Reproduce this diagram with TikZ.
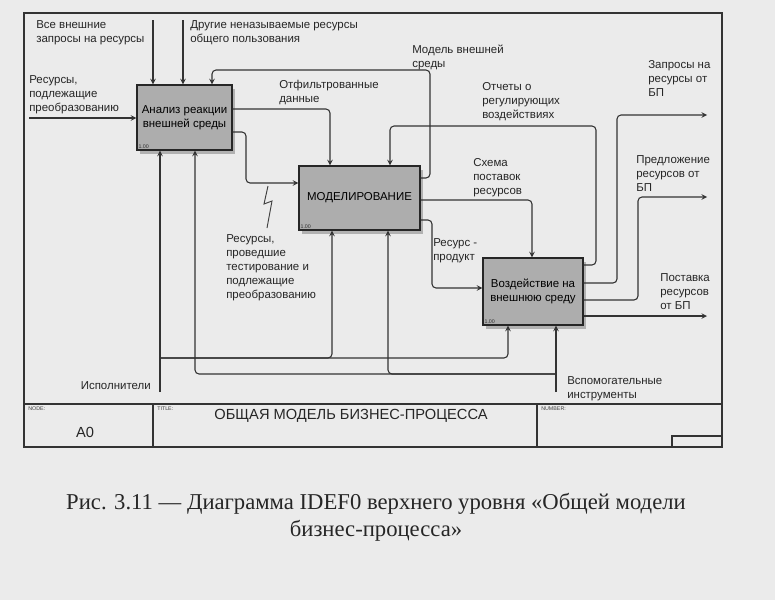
\documentclass[tikz,border=0pt]{standalone}
\usepackage{fontspec}
\setmainfont{Liberation Serif}
\setsansfont{Liberation Sans}
\usepackage{tikz}
\usetikzlibrary{positioning,shadows}

\begin{document}
\begin{tikzpicture}[
  x=0.75pt, y=-0.75pt,
  box/.style={draw=black!85, fill=black!32, line width=1.1pt, align=center, inner sep=2pt, font=\sffamily\fontsize{8.6}{10.5}\selectfont, drop shadow={shadow xshift=2.5pt, shadow yshift=-3pt, fill=black!40, opacity=0.7}},
  lbl/.style={font=\sffamily\fontsize{8.6}{10.5}\selectfont, align=left, inner sep=0pt, anchor=north west, text=black!85},
  num/.style={font=\sffamily\fontsize{4}{4}\selectfont, inner sep=1.5pt, anchor=south west, text=black!80},
  hdr/.style={font=\sffamily\fontsize{4}{4}\selectfont, inner sep=0pt, anchor=north west, text=black!75},
  arr/.style={->, >=stealth, draw=black!80, line width=0.8pt, rounded corners=3pt},
  squig/.style={draw=black!75, line width=0.7pt},
  frm/.style={draw=black!80, line width=0.9pt},
]
\path[use as bounding box, fill=black!8] (0,0) rectangle (775,600);

% Frame and title block
\draw[frm] (24,13) rectangle (722,447);
\draw[frm] (24,404) -- (722,404) (153,404) -- (153,447) (537,404) -- (537,447);
\draw[frm] (672,436) rectangle (722,447);
\node[hdr] (nodehdr) at (28,407) {NODE:};
\node[hdr] (titlehdr) at (157,407) {TITLE:};
\node[hdr] (numhdr) at (541,407) {NUMBER:};
\node[font=\sffamily\fontsize{11}{11}\selectfont, text=black!85] (nodeno) at (85,432) {A0};
\node[font=\sffamily\fontsize{11}{11}\selectfont, text=black!85] (ttl) at (351,416) {ОБЩАЯ МОДЕЛЬ БИЗНЕС-ПРОЦЕССА};

% Functions
\node[box, minimum width=71.25pt, minimum height=48.75pt] (a1) at (184.5,117.5) {Анализ реакции\\внешней среды};
\node[box, minimum width=90.75pt, minimum height=48pt] (a2) at (359.5,198) {МОДЕЛИРОВАНИЕ};
\node[box, minimum width=75pt, minimum height=50.25pt] (a3) at (533,291.5) {Воздействие на\\внешнюю среду};
\node[num] (a1n) at (a1.south west) {1.00};
\node[num] (a2n) at (a2.south west) {1.00};
\node[num] (a3n) at (a3.south west) {1.00};

% Controls and input of a1
\coordinate (c1) at (153,20);
\coordinate (c2) at (183,20);
\draw[arr] (c1) -- (c1 |- a1.north);
\draw[arr] (c2) -- (c2 |- a1.north);
\node[lbl] (c1l) at (36,20) {Все внешние\\запросы на ресурсы};
\node[lbl] (c2l) at (190,20) {Другие неназываемые ресурсы\\общего пользования};
\coordinate (i1) at (29,118);
\draw[arr] (i1) -- (i1 -| a1.west);
\node[lbl] (i1l) at (29,75) {Ресурсы,\\подлежащие\\преобразованию};

% a1 -> a2
\coordinate (k1) at (330,109);
\draw[arr] (k1 -| a1.east) -| (k1 |- a2.north);
\node[lbl] (k1l) at (279,80) {Отфильтрованные\\данные};
\coordinate (k2) at (246,132);
\coordinate (k3) at (246,183);
\draw[arr] (k2 -| a1.east) -- (k2) -- (k3) -- (k3 -| a2.west);
\node[lbl] (k3l) at (226,234) {Ресурсы,\\проведшие\\тестирование и\\подлежащие\\преобразованию};
\coordinate (z1) at (268,186);
\draw[squig] (z1) -- ++(-4,18) -- ++(8,-3) -- ++(-5,27);

% a2 -> a1 (feedback)
\coordinate (m1) at (430,178);
\coordinate (m2) at (212,70);
\draw[arr] (m1 -| a2.east) -- (m1) |- (m2) -- (m2 |- a1.north);
\node[lbl] (m1l) at (412,45) {Модель внешней\\среды};

% a3 -> a2 (feedback)
\coordinate (r1) at (596,265);
\coordinate (r2) at (390,126);
\draw[arr] (r1 -| a3.east) -- (r1) |- (r2) -- (r2 |- a2.north);
\node[lbl] (r1l) at (482,82) {Отчеты о\\регулирующих\\воздействиях};

% a2 -> a3
\coordinate (s1) at (532,200);
\draw[arr] (s1 -| a2.east) -- (s1) -- (s1 |- a3.north);
\node[lbl] (s1l) at (473,158) {Схема\\поставок\\ресурсов};
\coordinate (p1) at (432,220);
\coordinate (p2) at (432,288);
\draw[arr] (p1 -| a2.east) -- (p1) -- (p2) -- (p2 -| a3.west);
\node[lbl] (p1l) at (433,238) {Ресурс -\\продукт};

% Outputs of a3
\coordinate (o1) at (707,115);
\coordinate (q1) at (617,283);
\draw[arr] (q1 -| a3.east) -- (q1) |- (o1);
\node[lbl] (o1l) at (648,60) {Запросы на\\ресурсы от\\БП};
\coordinate (o2) at (707,197);
\coordinate (q2) at (638,300);
\draw[arr] (q2 -| a3.east) -- (q2) |- (o2);
\node[lbl] (o2l) at (636,155) {Предложение\\ресурсов от\\БП};
\coordinate (o3) at (707,316);
\draw[arr] (o3 -| a3.east) -- (o3);
\node[lbl] (o3l) at (660,273) {Поставка\\ресурсов\\от БП};

% Mechanisms
\coordinate (e1) at (160,392);
\coordinate (b1) at (508,358);
\coordinate (b2) at (332,358);
\draw[arr] (e1) -- (e1 |- a1.south);
\draw[arr] (b1 -| e1) -- (b1) -- (b1 |- a3.south);
\draw[arr] (b1 -| e1) -| (b2 |- a2.south);
\node[lbl, anchor=east] (e1l) at (151,386) {Исполнители};
\coordinate (e3) at (556,392);
\coordinate (b3) at (195,374);
\coordinate (b4) at (388,374);
\draw[arr] (e3) -- (e3 |- a3.south);
\draw[arr] (e3 |- b3) -- (b3) -- (b3 |- a1.south);
\draw[arr] (e3 |- b3) -| (b4 |- a2.south);
\node[lbl] (e3l) at (567,376) {Вспомогательные\\инструменты};

% Caption
\node[font=\fontsize{17}{20.3}\selectfont, align=center, text=black!85] (cap) at (376,517) {Рис. 3.11 — Диаграмма IDEF0 верхнего уровня «Общей модели\\бизнес-процесса»};
\end{tikzpicture}
\end{document}
